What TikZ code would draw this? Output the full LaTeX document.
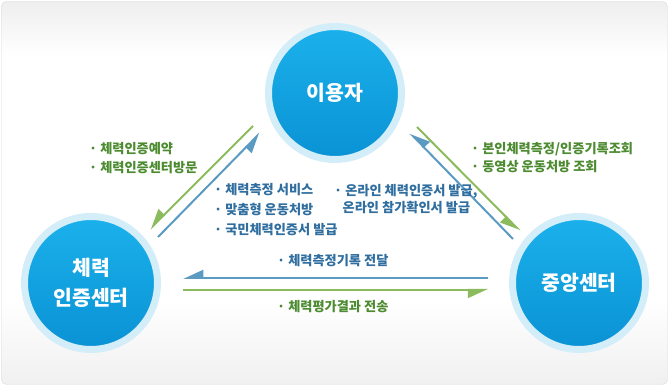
\documentclass[tikz,border=0pt]{standalone}
\usepackage{fontspec}
\newfontfamily\kr{Noto Sans CJK KR}
\usetikzlibrary{arrows.meta}
\definecolor{garr}{HTML}{8CBB5E}
\definecolor{barr}{HTML}{5B9BC2}
\definecolor{gtxt}{HTML}{4C8B2F}
\definecolor{btxt}{HTML}{2F6E9F}
\definecolor{ringc}{HTML}{D4EEF9}
\definecolor{ctop}{HTML}{1BB1EC}
\definecolor{cbot}{HTML}{0A92D4}
\definecolor{bgedge}{HTML}{DADADA}
\definecolor{bgtop}{HTML}{EEEEEE}
\definecolor{bgbot}{HTML}{F0F0F0}
\pgfdeclareverticalshading{bgshade}{100bp}{color(0bp)=(bgbot); color(25bp)=(bgbot); color(36bp)=(white); color(68bp)=(white); color(75bp)=(bgtop); color(100bp)=(bgtop)}
\tikzset{
  hub/.style={circle, minimum size=133pt, inner sep=0pt, draw=ringc, line width=7pt,
    top color=ctop, bottom color=cbot, text=white, align=center,
    font=\kr\bfseries\fontsize{20.5}{30}\selectfont},
  arr/.style={line width=2pt, -{Triangle[harpoon, swap, length=18pt, width=16pt]}},
  garrow/.style={arr, draw=garr, fill=garr},
  barrow/.style={arr, draw=barr, fill=barr},
  lbl/.style={anchor=base west, inner sep=0pt, font=\kr\bfseries\fontsize{13.2}{16}\selectfont},
  glbl/.style={lbl, text=gtxt},
  blbl/.style={lbl, text=btxt}
}
\begin{document}
\begin{tikzpicture}[x=1pt,y=-1pt]
\useasboundingbox (0,0) rectangle (670,387);
\path[draw=bgedge, shading=bgshade, rounded corners=5pt] (1.5,1.5) rectangle (667.5,384.5);

\node[hub] (user) at (335,93) {이용자};
\node[hub] (cert) at (91,283) {체력\\인증센터};
\node[hub] (hq) at (579,283) {중앙센터};

\coordinate (g1s) at (253,126); \coordinate (g1e) at (150,229);
\coordinate (b1s) at (158,237); \coordinate (b1e) at (260,133);
\coordinate (g2s) at (417,127); \coordinate (g2e) at (520,231);
\coordinate (b2s) at (513,239); \coordinate (b2e) at (410,133);
\coordinate (b3s) at (488,278); \coordinate (b3e) at (183,278);
\coordinate (g3s) at (183,290); \coordinate (g3e) at (488,290);

\draw[garrow] (g1s) -- (g1e);
\draw[barrow] (b1s) -- (b1e);
\draw[garrow] (g2s) -- (g2e);
\draw[barrow] (b2s) -- (b2e);
\draw[barrow] (b3s) -- (b3e);
\draw[garrow] (g3s) -- (g3e);

\node[glbl] (tl1) at (89,154) {· 체력인증예약};
\node[glbl] (tl2) at (89,172.5) {· 체력인증센터방문};
\node[blbl] (m1) at (214,195) {· 체력측정 서비스};
\node[blbl] (m2) at (214,214.5) {· 맞춤형 운동처방};
\node[blbl] (m3) at (214,234.5) {· 국민체력인증서 발급};
\node[blbl] (rm1) at (334,196) {· 온라인 체력인증서 발급,};
\node[blbl] (rm2) at (342.5,212.5) {온라인 참가확인서 발급};
\node[glbl] (tr1) at (471,154) {· 본인체력측정/인증기록조회};
\node[glbl] (tr2) at (471,172) {· 동영상 운동처방 조회};
\node[blbl] (h1) at (277,265.3) {· 체력측정기록 전달};
\node[glbl] (h2) at (277,311.5) {· 체력평가결과 전송};
\end{tikzpicture}
\end{document}
